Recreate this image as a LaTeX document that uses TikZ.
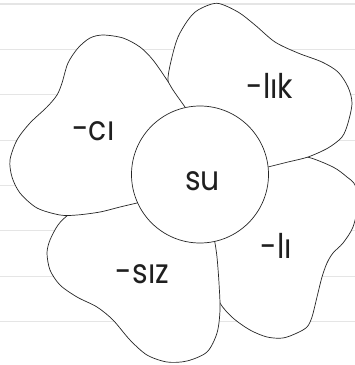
\documentclass[tikz,border=0pt]{standalone}
\usepackage{fontspec}
\setmainfont{Poppins}[FakeStretch=0.88]
\begin{document}
\begin{tikzpicture}[x=1pt,y=-1pt,
  petal/.style={fill=white,draw=black!85,line width=0.7pt,line join=round},
  lbl/.style={anchor=base,inner sep=0pt,font=\fontsize{34}{34}\selectfont,text=black!88},
  ruling/.style={draw=black!10,line width=0.8pt}]
\useasboundingbox (0,0) rectangle (355,365);
\clip (0,0) rectangle (355,365);
\fill[white] (0,0) rectangle (355,365);
\draw[ruling,line width=1.6pt] (0,4) -- (355,4);
\foreach \y in {49.3,94.7,140,185.3,230.7,276,321.3} \draw[ruling] (0,\y) -- (355,\y);
\coordinate (c) at (200,174.5);
% petal -li (bottom layer)
\draw[petal] plot[smooth] coordinates {(262,160) (285,158) (307,157) (333,167) (347,177) (355,185) (358,203) (353,227) (343,243) (333,253) (327,263) (322,277) (317,297) (312,317) (307,327) (297,333) (283,338) (267,337) (250,330) (233,318) (220,303) (212,280) (208,235)} -- (c) -- cycle;
% petal -lik
\draw[petal] plot[smooth] coordinates {(268,167) (288,162) (308,157) (328,148) (342,137) (348,123) (352,103) (348,87) (338,72) (322,62) (298,53) (275,42) (255,25) (238,12) (217,3.3) (198,10) (188,20) (178,37) (172,57) (168,79) (172,98) (180,116)} -- (c) -- cycle;
% petal -siz
\draw[petal] plot[smooth] coordinates {(215,243) (217,257) (219,283) (220,310) (217,333) (207,352) (187,361) (167,362) (147,355) (130,340) (113,320) (97,307) (77,297) (60,285) (50,270) (47,253) (50,240) (58,225) (68,215) (82,206) (110,200) (140,192)} -- (c) -- cycle;
% petal -ci (top layer)
\draw[petal] plot[smooth] coordinates {(137,203) (120,207) (100,212) (77,215) (60,215) (37,208) (20,193) (12,177) (10,160) (17,140) (30,123) (47,107) (57,95) (62,83) (68,63) (78,48) (90,38) (103,35) (123,38) (140,47) (153,60) (167,80) (173,90) (185,107)} -- (c) -- cycle;
% centre
\node[circle,draw=black!85,line width=0.7pt,fill=white,minimum size=137pt,inner sep=0pt] (centre) at (c) {};
\node[lbl] (ci) at (93.5,140) {-cı};
\node[lbl] (lik) at (270,98) {-lık};
\node[lbl] (li) at (276.5,258) {-lı};
\node[lbl] (siz) at (142.5,283) {-sız};
\node[lbl] (su) at (202.5,190) {su};
\end{tikzpicture}
\end{document}
